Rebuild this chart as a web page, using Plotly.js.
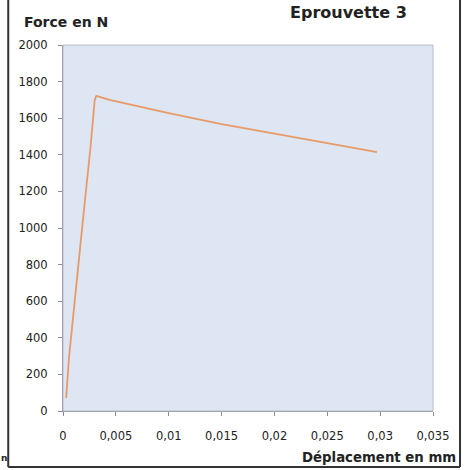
<!DOCTYPE html>
<html><head><meta charset="utf-8">
<script src="https://cdn.plot.ly/plotly-3.0.1.min.js"></script>
<style>html,body{margin:0;padding:0;background:#fff}#chart{width:471px;height:470px}</style>
</head><body><div id="chart"></div>
<script>
const displacement = [0.0003, 0.00057, 0.00085, 0.00114, 0.00160, 0.00208, 0.00260, 0.0030, 0.00315, 0.0044, 0.0070, 0.0100, 0.0150, 0.0200, 0.0250, 0.0297];
const force = [71, 295, 453, 607, 880, 1153, 1440, 1700, 1722, 1700, 1665, 1628, 1568, 1514, 1464, 1415];
const xTickVals = [0, 0.005, 0.01, 0.015, 0.02, 0.025, 0.03, 0.035];
const xTickText = ['0', '0,005', '0,01', '0,015', '0,02', '0,025', '0,03', '0,035'];
const yTickVals = [0, 200, 400, 600, 800, 1000, 1200, 1400, 1600, 1800, 2000];

const font = 'DejaVu Sans, Verdana, sans-serif';
const trace = {
  x: displacement, y: force, type: 'scatter', mode: 'lines',
  line: {color: '#e89a68', width: 1.8}, hoverinfo: 'skip'
};
const layout = {
  width: 471, height: 470,
  margin: {l: 63, r: 38, t: 45, b: 59},
  paper_bgcolor: '#ffffff', plot_bgcolor: '#dde6f2',
  showlegend: false,
  font: {family: font, color: '#222', size: 11.5},
  xaxis: {
    range: [0, 0.035], tickvals: xTickVals, ticktext: xTickText,
    showgrid: false, zeroline: false, showline: true, linecolor: '#8a8a9a', linewidth: 1,
    ticks: 'outside', ticklen: 4, tickcolor: '#8a8a9a', ticklabelstandoff: 10,
    tickfont: {family: font, size: 11.5, color: '#222'}
  },
  yaxis: {
    range: [0, 2000], tickvals: yTickVals,
    showgrid: false, zeroline: false, showline: true, linecolor: '#8a8a9a', linewidth: 1,
    ticks: 'outside', ticklen: 4, tickcolor: '#8a8a9a', ticklabelstandoff: 8,
    tickfont: {family: font, size: 11.5, color: '#222'}
  },
  shapes: [
    {type: 'rect', xref: 'paper', yref: 'paper', x0: 0, x1: 1, y0: 0, y1: 1,
     line: {color: '#b8bcc8', width: 1}, layer: 'above'},
    {type: 'line', xref: 'paper', yref: 'paper', x0: -0.148, x1: -0.148, y0: -0.153, y1: 1.125,
     line: {color: '#333', width: 2}},
    {type: 'line', xref: 'paper', yref: 'paper', x0: 1.073, x1: 1.073, y0: -0.153, y1: 1.125,
     line: {color: '#333', width: 2}},
    {type: 'line', xref: 'paper', yref: 'paper', x0: -0.148, x1: 1.073, y0: -0.153, y1: -0.153,
     line: {color: '#333', width: 2}}
  ],
  annotations: [
    {text: '<b>Eprouvette 3</b>', xref: 'paper', yref: 'paper', x: 0.772, y: 1.088,
     xanchor: 'center', yanchor: 'middle', showarrow: false,
     font: {family: font, size: 16, color: '#222'}},
    {text: '<b>Force en N</b>', xref: 'paper', yref: 'paper', x: -0.11, y: 1.063,
     xanchor: 'left', yanchor: 'middle', showarrow: false,
     font: {family: font, size: 14, color: '#222'}},
    {text: '<b>Déplacement en mm</b>', xref: 'paper', yref: 'paper', x: 1.068, y: -0.128,
     xanchor: 'right', yanchor: 'middle', showarrow: false,
     font: {family: font, size: 13.3, color: '#222'}},
    {text: '<b>n</b>', xref: 'paper', yref: 'paper', x: -0.169, y: -0.128,
     xanchor: 'left', yanchor: 'middle', showarrow: false, borderpad: 0,
     font: {family: font, size: 9, color: '#222'}}
  ]
};
Plotly.newPlot('chart', [trace], layout, {displayModeBar: false, staticPlot: true});
</script></body></html>
